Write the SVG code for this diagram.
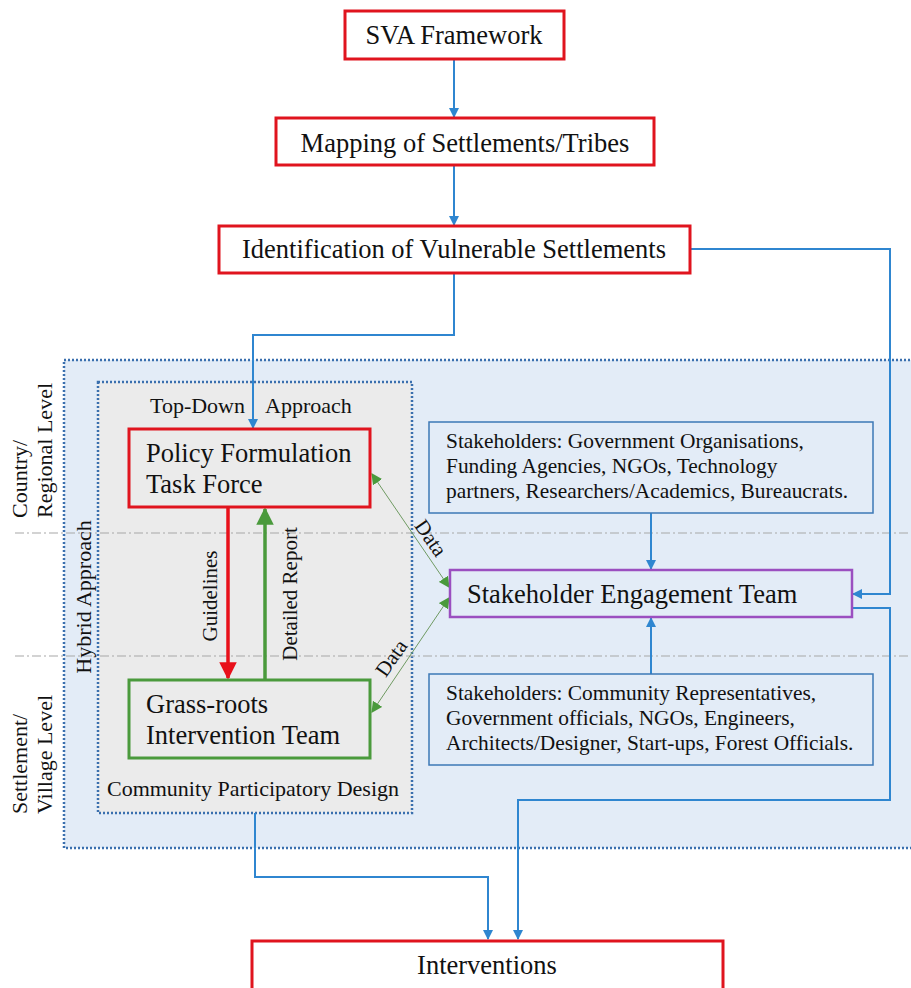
<svg xmlns="http://www.w3.org/2000/svg" width="911" height="988" viewBox="0 0 911 988">
<defs>
<style>
text{font-family:"Liberation Serif","Times New Roman",serif;fill:#111}
.t26{font-size:26.5px}
.t22{font-size:22px}
.t21{font-size:21px}
.ts{font-size:21.4px}
.redbox{fill:#fff;stroke:#e0141e;stroke-width:3}
.conn{fill:none;stroke:#2f86d0;stroke-width:2}
.sbox{fill:#e3ecf7;stroke:#3d78b6;stroke-width:1.5}
.dd{stroke:#a8a8a8;stroke-width:1.2;stroke-dasharray:9 3 2 3;fill:none}
.dot{stroke:#3a6fae;stroke-width:2.5;stroke-dasharray:2 2}
</style>
<marker id="ab" viewBox="0 0 10 10" refX="9" refY="5" markerWidth="10" markerHeight="10" markerUnits="userSpaceOnUse" orient="auto"><path d="M0,0 L10,5 L0,10 z" fill="#2f86d0"/></marker>
<marker id="ar" viewBox="0 0 10 10" refX="9" refY="5" markerWidth="5" markerHeight="5" orient="auto"><path d="M0,0 L10,5 L0,10 z" fill="#e8101a"/></marker>
<marker id="ag" viewBox="0 0 10 10" refX="9" refY="5" markerWidth="5" markerHeight="5" orient="auto"><path d="M0,0 L10,5 L0,10 z" fill="#4a9a3c"/></marker>
<marker id="agt" viewBox="0 0 10 10" refX="9" refY="5" markerWidth="11" markerHeight="11" markerUnits="userSpaceOnUse" orient="auto-start-reverse"><path d="M0,0 L10,5 L0,10 z" fill="#4a9a3c"/></marker>
</defs>
<rect width="911" height="988" fill="#fff"/>

<g id="hybrid-region">
<rect x="64" y="360" width="860" height="488" fill="#e3ecf7" class="dot"/>
</g>
<g id="inner-region">
<rect x="98" y="382" width="314" height="431" fill="#ebebeb" class="dot"/>
</g>
<g id="level-lines">
<line x1="15" y1="533" x2="911" y2="533" class="dd"/>
<line x1="15" y1="656" x2="911" y2="656" class="dd"/>
</g>

<g id="labels">
<text class="t22" transform="translate(27,518) rotate(-90)">Country/</text>
<text class="t22" transform="translate(52,518) rotate(-90)">Regional Level</text>
<text class="t22" transform="translate(27,814) rotate(-90)">Settlement/</text>
<text class="t22" transform="translate(52,814) rotate(-90)">Village Level</text>
<text class="t22" transform="translate(91,597) rotate(-90)" text-anchor="middle">Hybrid Approach</text>
<text class="t22" x="150" y="413">Top-Down<tspan x="265">Approach</tspan></text>
<text class="t22" x="253" y="796" text-anchor="middle">Community Participatory Design</text>
<text class="t21" transform="translate(217,596) rotate(-90)" text-anchor="middle">Guidelines</text>
<text class="t21" transform="translate(297,594) rotate(-90)" text-anchor="middle">Detailed Report</text>
<text class="t21" transform="translate(425,542) rotate(55)" text-anchor="middle">Data</text>
<text class="t21" transform="translate(397,662) rotate(-55)" text-anchor="middle">Data</text>
</g>

<g id="connectors">
<line x1="454" y1="59" x2="454" y2="117" class="conn" marker-end="url(#ab)"/>
<line x1="454" y1="165" x2="454" y2="225" class="conn" marker-end="url(#ab)"/>
<polyline points="454,273 454,335 253,335 253,428" class="conn" marker-end="url(#ab)"/>
<polyline points="690,249 890,249 890,594 853,594" class="conn" marker-end="url(#ab)"/>
<polyline points="852,608 890,608 890,800 518,800 518,939" class="conn" marker-end="url(#ab)"/>
<polyline points="255,813 255,877 488,877 488,939" class="conn" marker-end="url(#ab)"/>
<line x1="651" y1="513" x2="651" y2="569" class="conn" marker-end="url(#ab)"/>
<line x1="651" y1="674" x2="651" y2="618" class="conn" marker-end="url(#ab)"/>
<line x1="228" y1="508" x2="228" y2="678" stroke="#e8101a" stroke-width="3.5" marker-end="url(#ar)"/>
<line x1="265" y1="680" x2="265" y2="509" stroke="#4a9a3c" stroke-width="3.5" marker-end="url(#ag)"/>
<line x1="372" y1="474" x2="449" y2="587" stroke="#6f9a62" stroke-width="1" marker-start="url(#agt)" marker-end="url(#agt)"/>
<line x1="372" y1="712" x2="449" y2="598" stroke="#6f9a62" stroke-width="1" marker-start="url(#agt)" marker-end="url(#agt)"/>
</g>

<g id="sva">
<rect x="345" y="11" width="219" height="48" class="redbox"/>
<text class="t26" x="454" y="44" text-anchor="middle">SVA Framework</text>
</g>
<g id="mapping">
<rect x="276" y="118" width="378" height="47" class="redbox"/>
<text class="t26" x="465" y="152" text-anchor="middle">Mapping of Settlements/Tribes</text>
</g>
<g id="identification">
<rect x="219" y="226" width="471" height="47" class="redbox"/>
<text class="t26" x="454" y="258" text-anchor="middle">Identification of Vulnerable Settlements</text>
</g>
<g id="policy">
<rect x="129" y="429" width="241" height="78" fill="#ebebeb" stroke="#e0141e" stroke-width="3"/>
<text class="t26" x="146" y="462">Policy Formulation</text>
<text class="t26" x="146" y="493">Task Force</text>
</g>
<g id="grassroots">
<rect x="129" y="680" width="241" height="78" fill="#ebebeb" stroke="#4a9a3c" stroke-width="3"/>
<text class="t26" x="146" y="713">Grass-roots</text>
<text class="t26" x="146" y="744">Intervention Team</text>
</g>
<g id="stakeholders-top">
<rect x="429" y="422" width="444" height="91" class="sbox"/>
<text class="ts" x="446" y="448">Stakeholders: Government Organisations,</text>
<text class="ts" x="446" y="473">Funding Agencies, NGOs, Technology</text>
<text class="ts" x="446" y="498">partners, Researchers/Academics, Bureaucrats.</text>
</g>
<g id="engagement">
<rect x="450" y="570" width="402" height="47" fill="#e3ecf7" stroke="#9b4fc0" stroke-width="2.5"/>
<text class="t26" x="467" y="603">Stakeholder Engagement Team</text>
</g>
<g id="stakeholders-bottom">
<rect x="429" y="674" width="444" height="91" class="sbox"/>
<text class="ts" x="446" y="700">Stakeholders: Community Representatives,</text>
<text class="ts" x="446" y="725">Government officials, NGOs, Engineers,</text>
<text class="ts" x="446" y="750">Architects/Designer, Start-ups, Forest Officials.</text>
</g>
<g id="interventions">
<rect x="252" y="941" width="471" height="60" class="redbox"/>
<text class="t26" x="487" y="974" text-anchor="middle">Interventions</text>
</g>
</svg>
